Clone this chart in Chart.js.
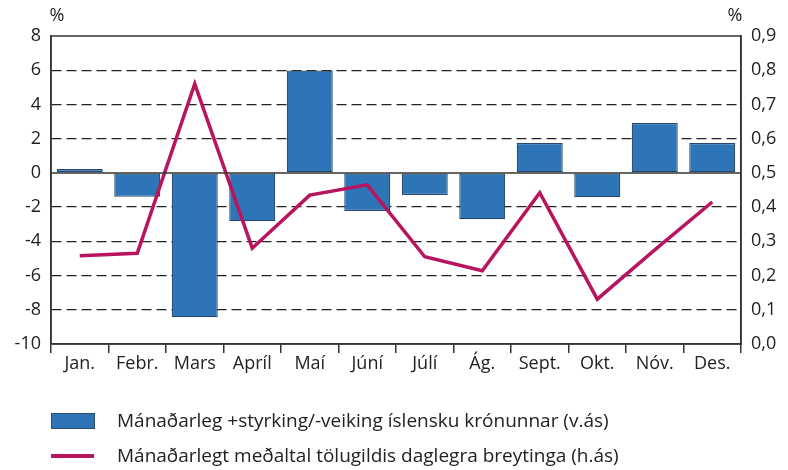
<!DOCTYPE html>
<html>
<head>
<meta charset="utf-8">
<script src="https://cdn.jsdelivr.net/npm/chart.js@4.4.0/dist/chart.umd.min.js"></script>
<style>
  html, body { margin: 0; padding: 0; background: #fff; }
  #wrap { position: relative; width: 788px; height: 470px; }
  #chart { position: absolute; left: 0; top: 0; }
  .legend { position: absolute; left: 51px; top: 0; font-family: 'Open Sans', sans-serif; font-size: 19px; line-height: 26px; color: #222; }
  .legend .row { position: absolute; left: 0; width: 720px; height: 20px; white-space: nowrap; }
  .legend .sw { position: absolute; left: 0; }
  .legend .txt { position: absolute; left: 66px; top: -3px; }
</style>
</head>
<body>
<div id="wrap">
  <canvas id="chart" width="788" height="470"></canvas>
  <div class="legend">
    <div class="row" style="top:410px">
      <div class="sw" style="top:3px;width:42px;height:14px;background:#2e75b8;border:1px solid #2a4f73;"></div>
      <div class="txt" id="lg1"></div>
    </div>
    <div class="row" style="top:445px">
      <div class="sw" style="top:9px;width:43px;height:4px;background:#b8145f;"></div>
      <div class="txt" id="lg2"></div>
    </div>
  </div>
</div>
<script>
const months = ['Jan.', 'Febr.', 'Mars', 'Apríl', 'Maí', 'Júní', 'Júlí', 'Ág.', 'Sept.', 'Okt.', 'Nóv.', 'Des.'];
const krona = [0.22, -1.39, -8.44, -2.83, 5.98, -2.22, -1.29, -2.71, 1.74, -1.42, 2.91, 1.74];
const dailyAvg = [0.258, 0.265, 0.76, 0.28, 0.435, 0.465, 0.255, 0.214, 0.442, 0.131, 0.275, 0.415];
const barLabel = 'Mánaðarleg +styrking/-veiking íslensku krónunnar (v.ás)';
const lineLabel = 'Mánaðarlegt meðaltal tölugildis daglegra breytinga (h.ás)';

document.getElementById('lg1').textContent = barLabel;
document.getElementById('lg2').textContent = lineLabel;

const FONT = "'Open Sans', sans-serif";
const AXIS = '#333';

const frame = {
  id: 'frame',
  afterDraw(chart) {
    const { ctx, chartArea: a, scales } = chart;
    ctx.save();
    ctx.strokeStyle = AXIS;
    ctx.lineWidth = 1.5;
    ctx.strokeRect(a.left, a.top, a.right - a.left, a.bottom - a.top);
    const y0 = scales.y.getPixelForValue(0);
    ctx.beginPath();
    ctx.moveTo(a.left, y0);
    ctx.lineTo(a.right, y0);
    ctx.stroke();
    ctx.fillStyle = '#222';
    ctx.font = '18px ' + FONT;
    ctx.textAlign = 'center';
    ctx.textBaseline = 'middle';
    ctx.fillText('%', 57, 16);
    ctx.fillText('%', 735, 16);
    ctx.restore();
  }
};

new Chart(document.getElementById('chart'), {
  data: {
    labels: months,
    datasets: [
      { type: 'line', label: lineLabel, data: dailyAvg, yAxisID: 'y2', borderColor: '#b8145f', borderWidth: 3.5, pointRadius: 0, tension: 0, order: 0 },
      { type: 'bar', label: barLabel, data: krona, yAxisID: 'y', backgroundColor: '#2e75b8', borderColor: '#27476a', borderWidth: 1.2, borderSkipped: false, barPercentage: 0.8, categoryPercentage: 1, order: 1 }
    ]
  },
  options: {
    responsive: false,
    animation: false,
    layout: { padding: { top: 36, left: 0, right: 0, bottom: 0 } },
    plugins: { legend: { display: false }, tooltip: { enabled: false } },
    scales: {
      x: {
        offset: true,
        grid: { display: true, offset: true, drawOnChartArea: false, drawTicks: true, tickLength: 9, color: AXIS, lineWidth: 1.5 },
        border: { display: true, color: AXIS, width: 1.5 },
        ticks: { color: '#222', font: { family: FONT, size: 18 }, padding: 0, maxRotation: 0, autoSkip: false },
        afterFit: s => { s.height = 470 - 344; }
      },
      y: {
        position: 'left',
        min: -10, max: 8,
        ticks: { stepSize: 2, color: '#222', font: { family: FONT, size: 18 }, padding: 10 },
        grid: {
          drawTicks: false,
          lineWidth: 1.3,
          color: c => (c.tick && (c.tick.value === 0 || c.tick.value === 8 || c.tick.value === -10)) ? 'rgba(0,0,0,0)' : '#222'
        },
        border: { display: true, color: AXIS, width: 1.5, dash: [10, 5] },
        afterFit: s => { s.width = 51; }
      },
      y2: {
        position: 'right',
        min: 0, max: 0.9,
        ticks: { stepSize: 0.1, color: '#222', font: { family: FONT, size: 18 }, padding: 10,
          callback: v => v.toFixed(1).replace('.', ',') },
        grid: { display: false, drawTicks: false },
        border: { display: true, color: AXIS, width: 1.5 },
        afterFit: s => { s.width = 788 - 741; }
      }
    }
  },
  plugins: [frame]
});
</script>
</body>
</html>
